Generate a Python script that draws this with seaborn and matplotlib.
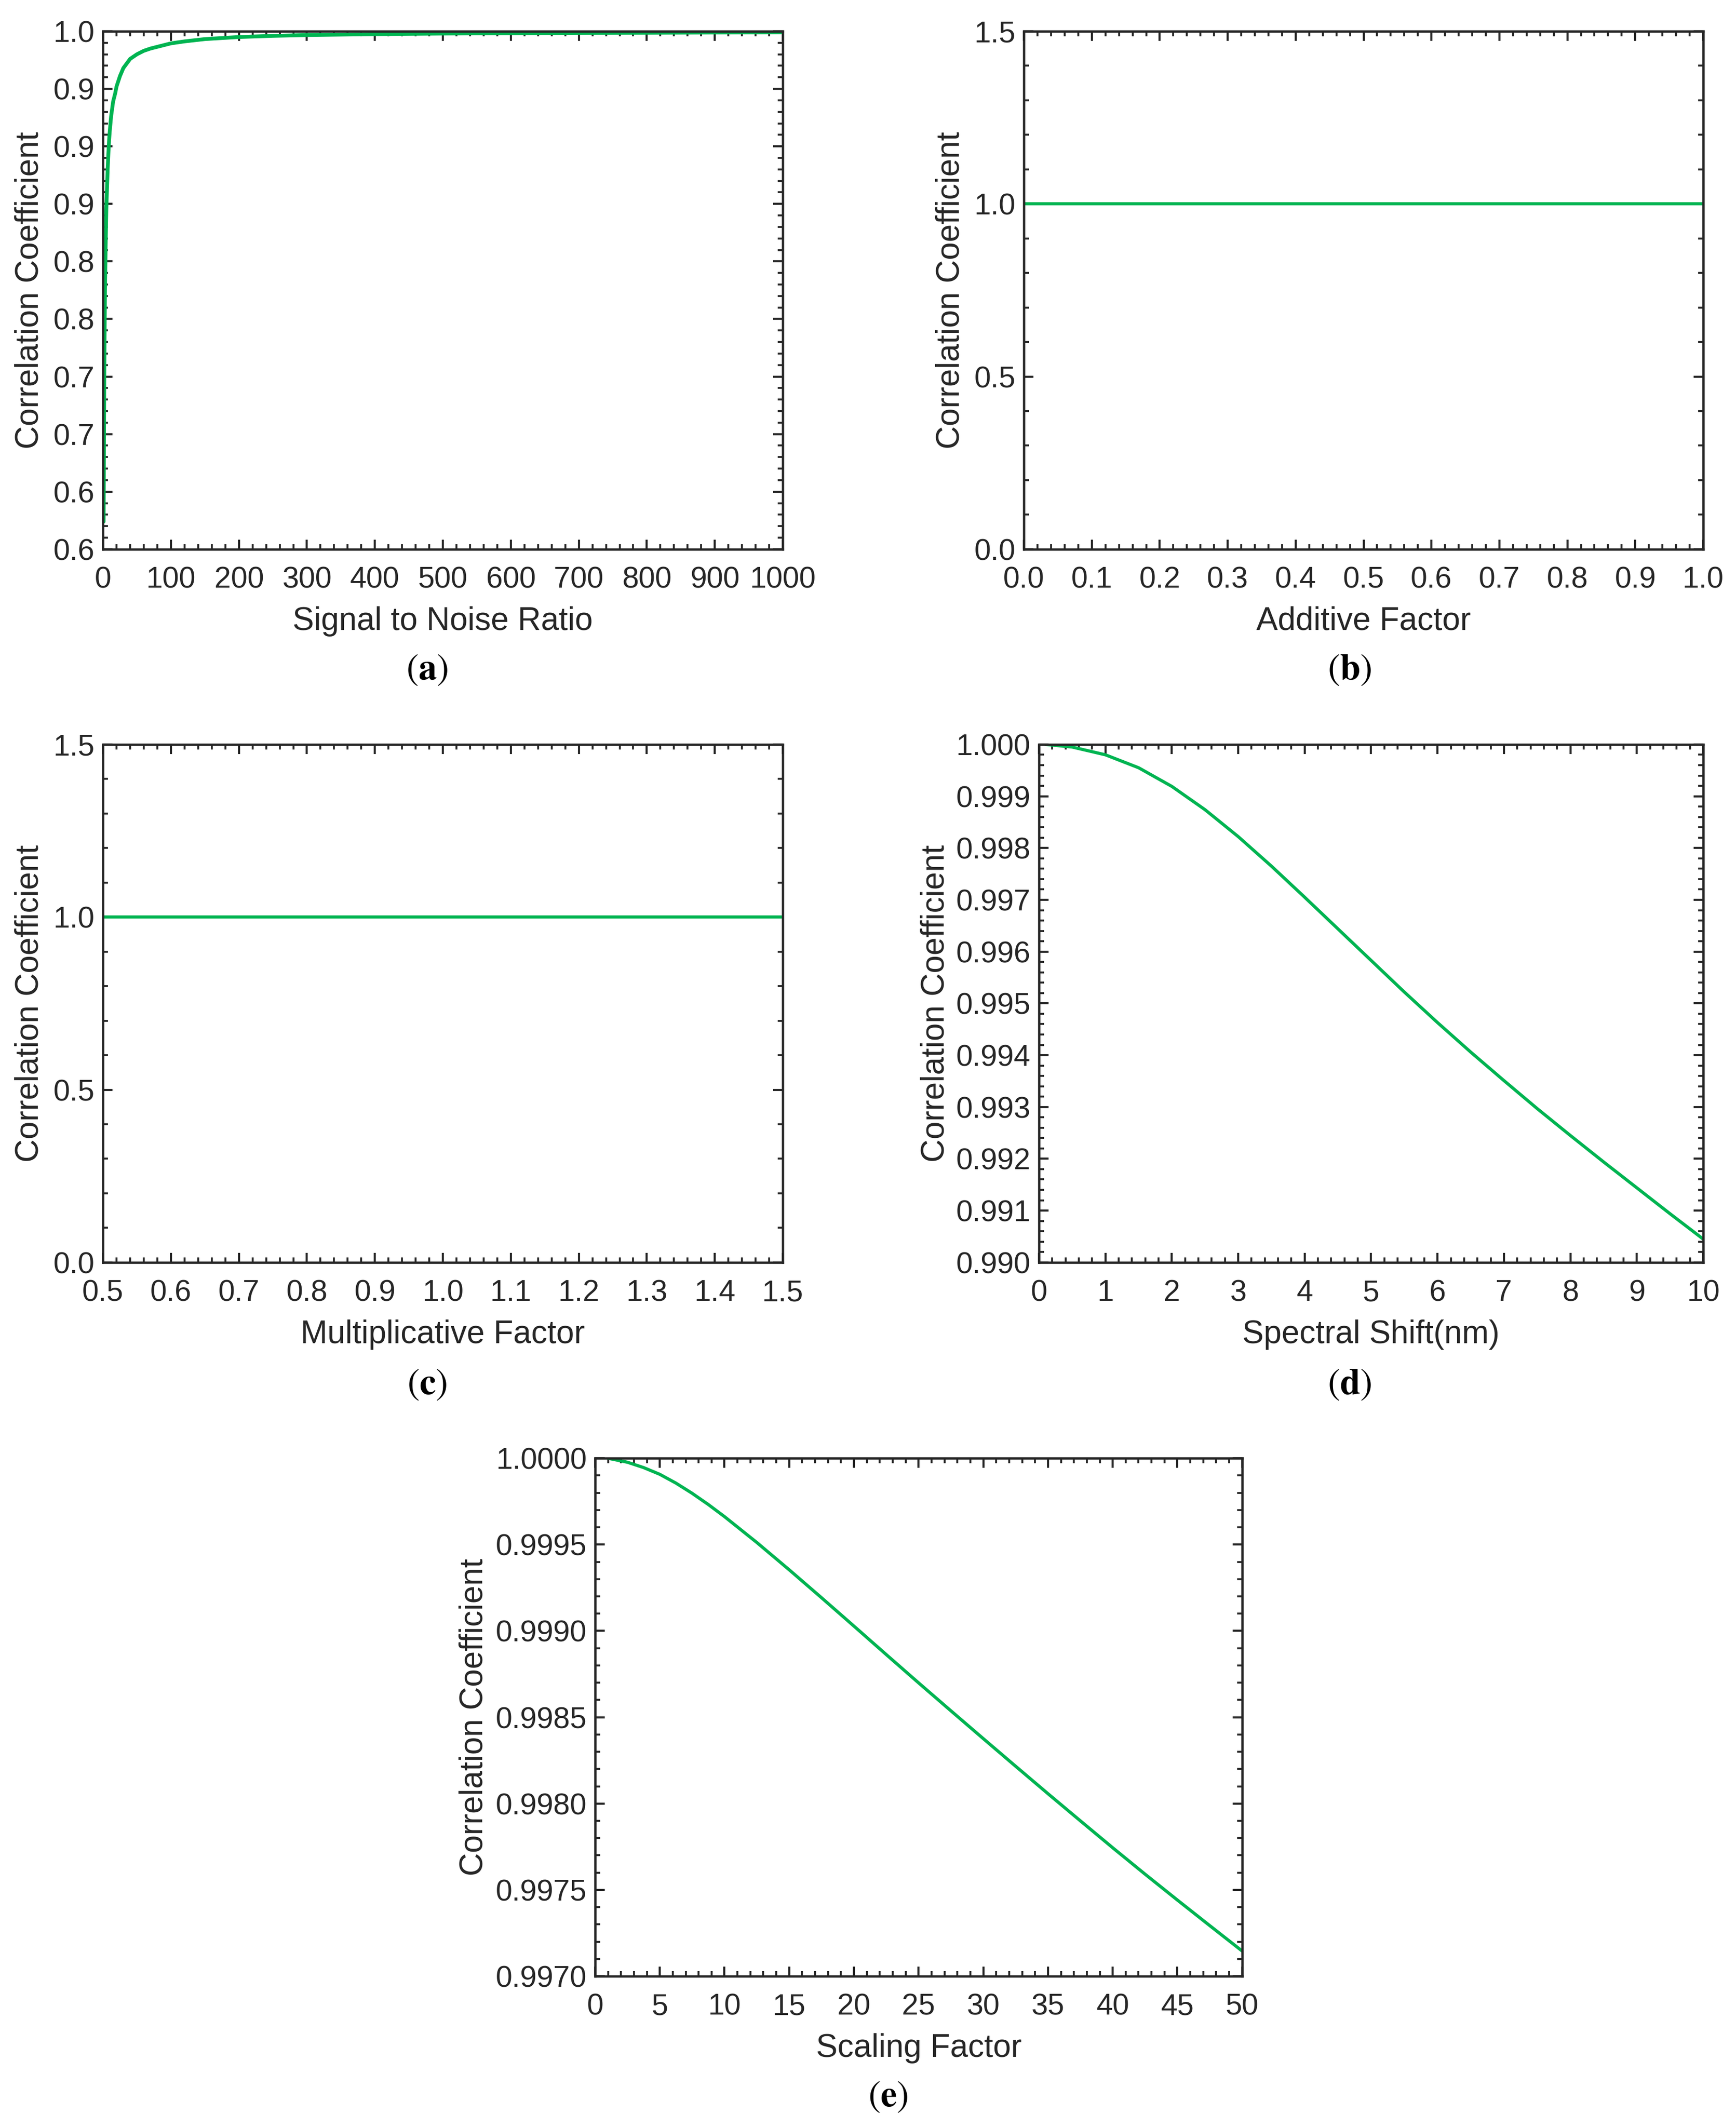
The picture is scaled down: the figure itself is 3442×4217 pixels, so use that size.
import numpy as np
import pandas as pd
import matplotlib
matplotlib.use('Agg')
import matplotlib.pyplot as plt
import seaborn as sns
from matplotlib.ticker import FixedLocator, FixedFormatter, AutoMinorLocator

# data
snr = [1, 2, 3, 4, 5, 6, 7, 8, 9, 10, 12, 15, 18, 20, 25, 30, 35, 40, 50,
       60, 70, 80, 90, 100, 120, 150, 200, 250, 300, 400, 500, 600, 700,
       800, 900, 1000]
r_snr = [0.574, 0.705, 0.776, 0.814, 0.846, 0.864, 0.881, 0.894, 0.905,
         0.913, 0.926, 0.939, 0.946, 0.952, 0.961, 0.968, 0.972, 0.976,
         0.980, 0.983, 0.985, 0.9865, 0.988, 0.9895, 0.9912, 0.9932, 0.9950,
         0.9960, 0.9967, 0.9975, 0.9980, 0.9983, 0.9986, 0.9987, 0.9989,
         0.9990]

add_factor = [0.0, 0.1, 0.2, 0.3, 0.4, 0.5, 0.6, 0.7, 0.8, 0.9, 1.0]
r_add = [1.0] * len(add_factor)

mult_factor = [0.5, 0.6, 0.7, 0.8, 0.9, 1.0, 1.1, 1.2, 1.3, 1.4, 1.5]
r_mult = [1.0] * len(mult_factor)

shift_nm = [0.1, 0.5, 1.0, 1.5, 2.0, 2.5, 3.0, 3.5, 4.0, 4.5, 5.0, 5.5, 6.0,
            6.5, 7.0, 7.5, 8.0, 8.5, 9.0, 9.5, 10.0]
r_shift = [1.00000, 0.99995, 0.99980, 0.99955, 0.99919, 0.99874, 0.99822,
           0.99765, 0.99705, 0.99644, 0.99583, 0.99522, 0.99463, 0.99406,
           0.99351, 0.99297, 0.99245, 0.99194, 0.99144, 0.99094, 0.99045]

scale_f = [1, 2.5, 3.75, 5, 6.25, 7.5, 8.75, 10, 12.5, 15, 17.5, 20, 22.5,
           25, 27.5, 30, 32.5, 35, 37.5, 40, 42.5, 45, 47.5, 50]
r_scale = [1.000000, 0.999977, 0.999946, 0.999907, 0.999856, 0.999797,
           0.999732, 0.999662, 0.999512, 0.999354, 0.999192, 0.999028,
           0.998863, 0.998699, 0.998537, 0.998376, 0.998216, 0.998057,
           0.997900, 0.997744, 0.997591, 0.997441, 0.997293, 0.997146]

# tick labels
a_xticks = [0, 100, 200, 300, 400, 500, 600, 700, 800, 900, 1000]
a_yticks = [0.55, 0.60, 0.65, 0.70, 0.75, 0.80, 0.85, 0.90, 0.95, 1.00]
a_ylabels = ['0.6', '0.6', '0.7', '0.7', '0.8', '0.8', '0.9', '0.9', '0.9', '1.0']
bc_yticks = [0.0, 0.5, 1.0, 1.5]
d_xticks = list(range(0, 11))
d_yticks = [0.990, 0.991, 0.992, 0.993, 0.994, 0.995, 0.996, 0.997, 0.998, 0.999, 1.000]
e_xticks = list(range(0, 51, 5))
e_yticks = [0.9970, 0.9975, 0.9980, 0.9985, 0.9990, 0.9995, 1.0000]

sns.set_theme(style='ticks')
plt.rcParams['font.family'] = ['Liberation Sans', 'DejaVu Sans']
plt.rcParams['mathtext.fontset'] = 'stix'

GREEN = '#00B451'
DARK = '#262626'

fig = plt.figure(figsize=(3442 / 300, 4217 / 300), dpi=300)

def style_axes(ax, xlabel, ylab_x):
    for sp in ax.spines.values():
        sp.set_linewidth(1.1)
        sp.set_color(DARK)
    ax.tick_params(which='both', direction='in', top=True, right=True,
                   colors=DARK, labelsize=14.2)
    ax.tick_params(which='major', length=4.5, width=1.0)
    ax.tick_params(which='minor', length=2.5, width=0.9)
    ax.tick_params(axis='x', pad=8)
    ax.tick_params(axis='y', pad=4)
    ax.set_xlabel(xlabel, fontsize=15.3, color=DARK)
    ax.set_ylabel('Correlation Coefficient', fontsize=15.3, color=DARK)
    ax.xaxis.set_label_coords(0.5, -0.11)
    ax.yaxis.set_label_coords(ylab_x, 0.5)

def caption(x, y, letter):
    fig.text(x, y, r'$\mathrm{(}\mathbf{' + letter + r'}\mathrm{)}$',
             ha='center', va='center', fontsize=17.5, color='black')

# (a)
ax = fig.add_axes([0.0593, 0.7418, 0.3916, 0.2435])
sns.lineplot(x=snr, y=r_snr, ax=ax, color=GREEN, linewidth=1.8)
ax.set_xlim(0, 1000)
ax.set_ylim(0.55, 1.0)
ax.set_xticks(a_xticks)
ax.yaxis.set_major_locator(FixedLocator(a_yticks))
ax.yaxis.set_major_formatter(FixedFormatter(a_ylabels))
ax.xaxis.set_minor_locator(AutoMinorLocator(5))
ax.yaxis.set_minor_locator(AutoMinorLocator(5))
style_axes(ax, 'Signal to Noise Ratio', -0.086)
caption(0.2459, 0.6850, 'a')

# (b)
ax = fig.add_axes([0.5898, 0.7418, 0.3913, 0.2435])
sns.lineplot(x=add_factor, y=r_add, ax=ax, color=GREEN, linewidth=1.5)
ax.set_xlim(0, 1)
ax.set_ylim(0, 1.5)
ax.set_xticks(add_factor)
ax.set_xticklabels([f'{v:.1f}' for v in add_factor])
ax.set_yticks(bc_yticks)
ax.set_yticklabels([f'{v:.1f}' for v in bc_yticks])
ax.xaxis.set_minor_locator(AutoMinorLocator(5))
ax.yaxis.set_minor_locator(AutoMinorLocator(5))
style_axes(ax, 'Additive Factor', -0.086)
caption(0.7775, 0.6850, 'b')

# (c)
ax = fig.add_axes([0.0593, 0.4065, 0.3916, 0.2435])
sns.lineplot(x=mult_factor, y=r_mult, ax=ax, color=GREEN, linewidth=1.5)
ax.set_xlim(0.5, 1.5)
ax.set_ylim(0, 1.5)
ax.set_xticks(mult_factor)
ax.set_xticklabels([f'{v:.1f}' for v in mult_factor])
ax.set_yticks(bc_yticks)
ax.set_yticklabels([f'{v:.1f}' for v in bc_yticks])
ax.xaxis.set_minor_locator(AutoMinorLocator(5))
ax.yaxis.set_minor_locator(AutoMinorLocator(5))
style_axes(ax, 'Multiplicative Factor', -0.086)
caption(0.2459, 0.3490, 'c')

# (d)
ax = fig.add_axes([0.5985, 0.4065, 0.3826, 0.2435])
sns.lineplot(x=shift_nm, y=r_shift, ax=ax, color=GREEN, linewidth=1.5)
ax.set_xlim(0, 10)
ax.set_ylim(0.990, 1.000)
ax.set_xticks(d_xticks)
ax.set_yticks(d_yticks)
ax.set_yticklabels([f'{v:.3f}' for v in d_yticks])
ax.xaxis.set_minor_locator(AutoMinorLocator(5))
ax.yaxis.set_minor_locator(AutoMinorLocator(5))
style_axes(ax, 'Spectral Shift(nm)', -0.133)
caption(0.7775, 0.3490, 'd')

# (e)
ax = fig.add_axes([0.3428, 0.0709, 0.3727, 0.2435])
sns.lineplot(x=scale_f, y=r_scale, ax=ax, color=GREEN, linewidth=1.5)
ax.set_xlim(0, 50)
ax.set_ylim(0.9970, 1.0000)
ax.set_xticks(e_xticks)
ax.set_yticks(e_yticks)
ax.set_yticklabels([f'{v:.4f}' for v in e_yticks])
ax.xaxis.set_minor_locator(AutoMinorLocator(5))
ax.yaxis.set_minor_locator(AutoMinorLocator(5))
style_axes(ax, 'Scaling Factor', -0.164)
caption(0.5116, 0.0142, 'e')

fig.savefig('out.png', dpi=300, facecolor='white')
